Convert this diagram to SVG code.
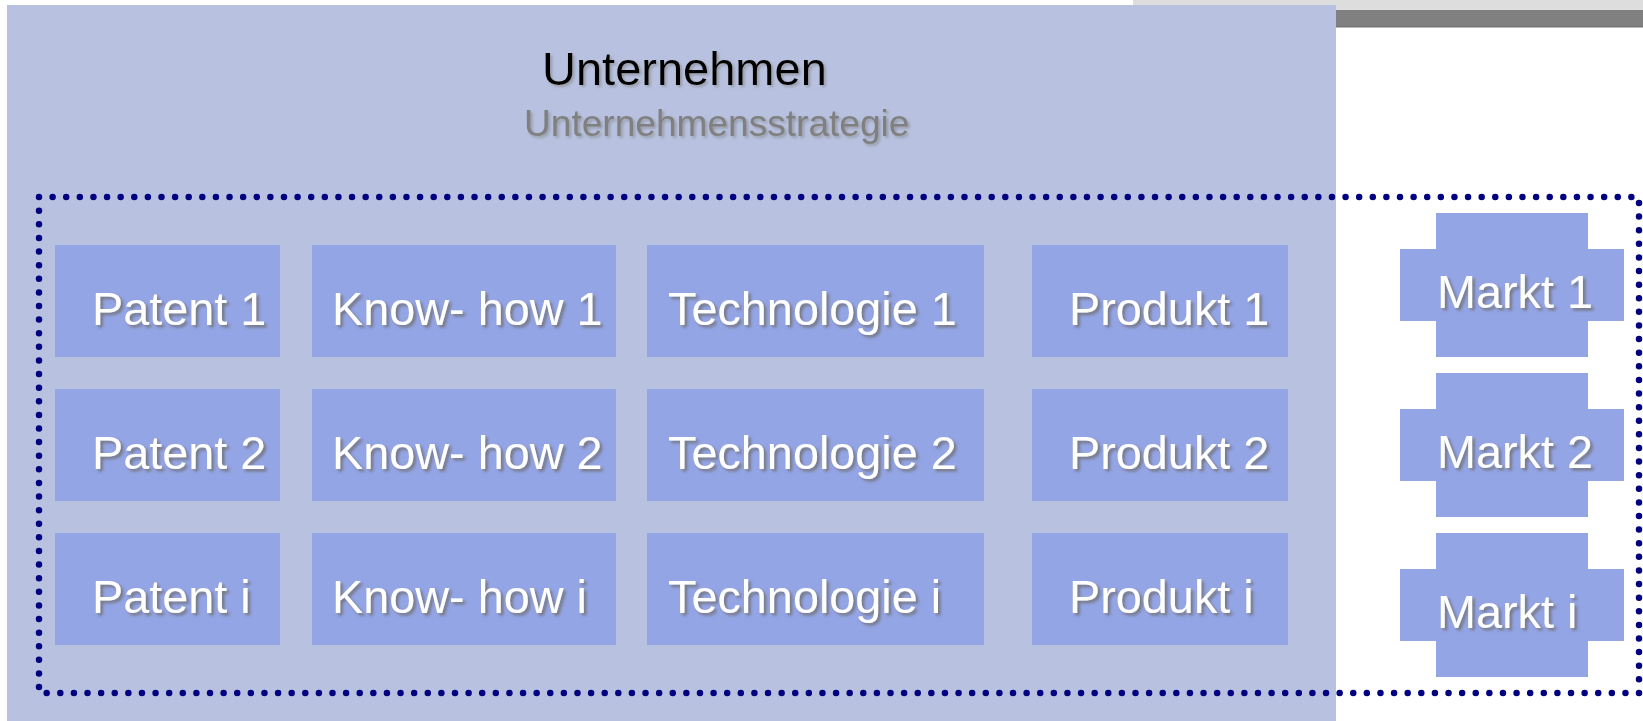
<svg xmlns="http://www.w3.org/2000/svg" width="1643" height="721" viewBox="0 0 1643 721">
<style>
.box{fill:#94A5E6}
.lbl{font-family:"Liberation Sans",Arial,sans-serif;font-size:46.8px;fill:#ffffff;filter:url(#sh)}
</style>
<defs>
<filter id="sh" x="-10%" y="-30%" width="120%" height="160%">
<feDropShadow dx="2.5" dy="2.5" stdDeviation="1.5" flood-color="#6e6e6e" flood-opacity="0.85"/>
</filter>
<filter id="sh2" x="-10%" y="-30%" width="120%" height="160%">
<feDropShadow dx="2" dy="2" stdDeviation="1.5" flood-color="#808080" flood-opacity="0.6"/>
</filter>
</defs>
<rect x="0" y="0" width="1643" height="721" fill="#ffffff"/>
<g id="topbar">
<rect x="1133" y="0" width="510" height="10" fill="#DDDDDD"/>
<rect x="1148" y="10" width="495" height="17" fill="#808080"/>
<rect x="1148" y="26" width="495" height="1.5" fill="#767676"/>
</g>
<g id="unternehmen">
<rect x="7" y="5" width="1329" height="716" fill="#B8C2E0"/>
<text x="542" y="85" font-family="Liberation Sans,Arial,sans-serif" font-size="47" fill="#000000" filter="url(#sh2)">Unternehmen</text>
<text x="524" y="136" font-family="Liberation Sans,Arial,sans-serif" font-size="37.1" fill="#808080" filter="url(#sh2)">Unternehmensstrategie</text>
</g>
<g id="patent1"><rect class="box" x="55" y="245" width="225" height="112"/><text class="lbl" x="92" y="325">Patent 1</text></g>
<g id="patent2"><rect class="box" x="55" y="389" width="225" height="112"/><text class="lbl" x="92" y="469">Patent 2</text></g>
<g id="patenti"><rect class="box" x="55" y="533" width="225" height="112"/><text class="lbl" x="92" y="613">Patent i</text></g>
<g id="knowhow1"><rect class="box" x="312" y="245" width="304" height="112"/><text class="lbl" x="332" y="325">Know- how 1</text></g>
<g id="knowhow2"><rect class="box" x="312" y="389" width="304" height="112"/><text class="lbl" x="332" y="469">Know- how 2</text></g>
<g id="knowhowi"><rect class="box" x="312" y="533" width="304" height="112"/><text class="lbl" x="332" y="613">Know- how i</text></g>
<g id="technologie1"><rect class="box" x="647" y="245" width="337" height="112"/><text class="lbl" x="668" y="325">Technologie 1</text></g>
<g id="technologie2"><rect class="box" x="647" y="389" width="337" height="112"/><text class="lbl" x="668" y="469">Technologie 2</text></g>
<g id="technologiei"><rect class="box" x="647" y="533" width="337" height="112"/><text class="lbl" x="668" y="613">Technologie i</text></g>
<g id="produkt1"><rect class="box" x="1032" y="245" width="256" height="112"/><text class="lbl" x="1069" y="325">Produkt 1</text></g>
<g id="produkt2"><rect class="box" x="1032" y="389" width="256" height="112"/><text class="lbl" x="1069" y="469">Produkt 2</text></g>
<g id="produkti"><rect class="box" x="1032" y="533" width="256" height="112"/><text class="lbl" x="1069" y="613">Produkt i</text></g>
<g id="markt1"><rect class="box" x="1436" y="213" width="152" height="144"/><rect class="box" x="1400" y="249" width="224" height="72"/><text class="lbl" x="1437" y="308">Markt 1</text></g>
<g id="markt2"><rect class="box" x="1436" y="373" width="152" height="144"/><rect class="box" x="1400" y="409" width="224" height="72"/><text class="lbl" x="1437" y="468">Markt 2</text></g>
<g id="markti"><rect class="box" x="1436" y="533" width="152" height="144"/><rect class="box" x="1400" y="569" width="224" height="72"/><text class="lbl" x="1437" y="628">Markt i</text></g>
<g id="connectors">
<rect x="39" y="197" width="1600" height="496" fill="none" stroke="#000080" stroke-width="6.5" stroke-linecap="round" stroke-dasharray="0 13.61"/>
</g>
</svg>
